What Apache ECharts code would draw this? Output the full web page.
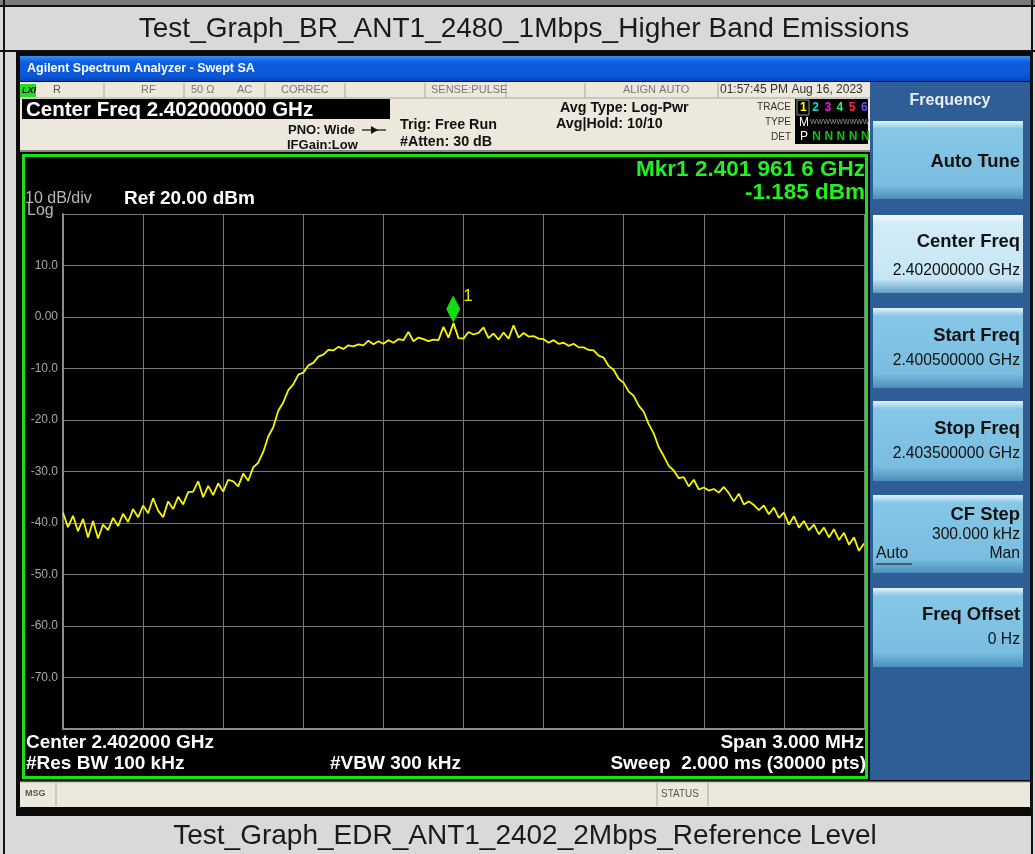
<!DOCTYPE html>
<html>
<head>
<meta charset="utf-8">
<script src="https://cdn.jsdelivr.net/npm/echarts@6.0.0/dist/echarts.min.js"></script>
<style>
html,body{margin:0;padding:0;background:#d9d9d9;}
#main{width:1035px;height:854px;}
</style>
</head>
<body>
<div id="main"></div>
<script>
// sweep: 2.4005 GHz .. 2.4035 GHz, offset from center 2.402 GHz in kHz
var startKHz = -1500;
var stepKHz = 18.75;
// trace 1 levels (dBm), every 18.75 kHz
var traceDbm = [
 -38.0,-40.8,-38.6,-41.6,-39.2,-42.8,-39.6,-43.0,-40.3,-41.4,
 -39.0,-40.6,-38.2,-39.8,-37.3,-38.9,-36.6,-38.1,-35.2,-37.6,
 -38.9,-35.8,-37.3,-34.9,-36.4,-34.0,-33.9,-31.9,-35.0,-32.8,
 -34.6,-32.3,-33.9,-31.6,-31.9,-32.9,-30.4,-31.8,-29.2,-28.3,
 -26.2,-23.2,-21.4,-18.2,-16.6,-14.2,-13.1,-11.2,-10.8,-9.4,
 -8.9,-7.7,-7.3,-6.4,-6.5,-5.8,-6.2,-5.5,-5.7,-5.3,
 -5.5,-4.6,-5.3,-4.7,-5.2,-4.5,-5.0,-4.3,-4.5,-2.9,
 -4.7,-4.0,-4.3,-4.7,-4.4,-4.5,-1.9,-4.0,-1.185,-4.1,
 -4.2,-2.9,-3.4,-3.1,-2.0,-4.1,-3.2,-4.4,-3.0,-4.2,
 -1.6,-4.0,-3.1,-3.8,-3.7,-4.2,-4.3,-5.0,-4.5,-5.2,
 -5.0,-5.6,-5.2,-5.9,-5.9,-6.4,-6.5,-7.5,-7.9,-9.5,
 -10.3,-12.0,-12.8,-14.5,-15.3,-17.2,-18.4,-20.8,-22.6,-25.3,
 -27.0,-28.9,-29.8,-31.3,-31.1,-32.9,-31.6,-33.5,-33.1,-33.7,
 -33.4,-34.1,-33.0,-34.2,-35.8,-34.3,-36.4,-35.8,-36.5,-37.5,
 -36.6,-38.3,-37.0,-39.0,-38.0,-40.3,-38.7,-40.9,-39.6,-41.4,
 -40.3,-42.2,-40.9,-42.8,-41.2,-43.3,-41.9,-44.2,-42.8,-45.4,
 -44.0
];
// marker 1
var mkrKHz = -38.4;
var mkrDbm = -1.185;
// y scale: ref 20 dBm, 10 dB/div
var yMin = -80, yMax = 20, yStep = 10;

var FONT = 'Liberation Sans, Arial, sans-serif';

function rect(x, y, w, h, fill, extra){
	var r = {type:'rect', shape:{x:x, y:y, width:w, height:h}, style:{fill:fill}, z:-10, silent:true};
	if (extra) {
		for (var k in extra) r.style[k] = extra[k];
	}
	return r;
}
function txt(x, y, s, size, color, opt){
	opt = opt || {};
	var font = (opt.bold ? 'bold ' : '') + (opt.italic ? 'italic ' : '') + size + 'px ' + (opt.family || FONT);
	return {type:'text', z:10, silent:true, style:{
		text:s, x:x, y:y, fill:color, font:font,
		textAlign:opt.align || 'left', align:opt.align || 'left',
		textVerticalAlign:'middle', verticalAlign:'middle'
	}};
}
function vline(x, y1, y2, color, w){
	return {type:'line', z:-5, silent:true, shape:{x1:x, y1:y1, x2:x, y2:y2}, style:{stroke:color, lineWidth:w || 1}};
}
function hline(x1, x2, y, color, w){
	return {type:'line', z:-5, silent:true, shape:{x1:x1, y1:y, x2:x2, y2:y}, style:{stroke:color, lineWidth:w || 1}};
}
function button(y, h, light){
	var g = {type:'linear', x:0, y:0, x2:0, y2:1, colorStops: light ? [
		{offset:0, color:'#f4fbfe'}, {offset:0.1, color:'#d3ecf8'}, {offset:0.82, color:'#c6e6f5'}, {offset:1, color:'#5f9fc8'}
	] : [
		{offset:0, color:'#e4f3fb'}, {offset:0.1, color:'#86c7e6'}, {offset:0.82, color:'#79bde0'}, {offset:1, color:'#4d8fbc'}
	]};
	return rect(873, y, 150, h, g);
}

function buildGraphic(){
	var els = [];
	// table cells / frame
	els.push(rect(0, 0, 1035, 854, '#d9d9d9'));
	els.push(rect(0, 0, 1035, 5, '#7a7a7a'));
	els.push(hline(0, 1035, 6, '#111', 2));
	els.push(vline(4, 0, 854, '#111', 2));
	els.push(vline(1032, 0, 854, '#111', 2));
	els.push(hline(0, 1035, 51, '#111', 2));
	els.push(rect(16, 51, 1017, 765, '#0a0a0a'));
	// XP title bar
	els.push(rect(20, 56, 1010, 25, {type:'linear', x:0, y:0, x2:0, y2:1, colorStops:[
		{offset:0, color:'#3b8cf5'}, {offset:0.25, color:'#0d5fe0'}, {offset:0.8, color:'#0a58d8'}, {offset:1, color:'#0846b8'}
	]}));
	// annunciator area
	els.push(rect(20, 82, 850, 70, '#ece9dc'));
	els.push(hline(20, 870, 98, '#a8a59a', 1));
	els.push(hline(20, 870, 151, '#8a877e', 2));
	[104, 184, 265, 345, 425, 506, 585, 718].forEach(function(x){
		els.push(vline(x, 83, 98, '#a8a59a', 1));
	});
	els.push(rect(20, 84, 16, 13, '#22dd22'));
	els.push(rect(22, 99, 368, 20, '#000'));
	els.push(rect(795, 99, 73, 45, '#000'));
	// plot panel
	els.push(rect(22, 153, 847, 627, '#000'));
	els.push({type:'rect', z:5, silent:true, shape:{x:23.5, y:155.5, width:843, height:622},
		style:{fill:'none', stroke:'#18e018', lineWidth:3}});
	// msg bar
	els.push(rect(20, 782, 1010, 25, '#ece9dc'));
	els.push(hline(20, 1030, 782, '#a8a59a', 1));
	[56, 657, 708].forEach(function(x){
		els.push(vline(x, 783, 806, '#a8a59a', 1));
	});
	// softkey panel
	els.push(rect(870, 82, 160, 698, '#2f5e96'));
	els.push(button(121, 78, false));
	els.push(button(215, 78, true));
	els.push(button(308, 80, false));
	els.push(button(401, 80, false));
	els.push(button(495, 78, false));
	els.push(button(588, 79, false));

	// texts: table captions
	els.push(txt(524, 29, 'Test_Graph_BR_ANT1_2480_1Mbps_Higher Band Emissions', 28, '#1a1a1a', {align:'center'}));
	els.push(txt(525, 836, 'Test_Graph_EDR_ANT1_2402_2Mbps_Reference Level', 28, '#1a1a1a', {align:'center'}));
	// title bar
	els.push(txt(27, 69, 'Agilent Spectrum Analyzer - Swept SA', 12.5, '#ffffff', {bold:true}));
	// status row
	els.push(txt(22, 91, 'LXI', 9, '#000', {bold:true, italic:true}));
	els.push(txt(53, 90, 'R', 11, '#555'));
	els.push(txt(141, 90, 'RF', 11, '#777'));
	els.push(txt(191, 90, '50 Ω', 11, '#777'));
	els.push(txt(237, 90, 'AC', 11, '#777'));
	els.push(txt(281, 90, 'CORREC', 11, '#777'));
	els.push(txt(431, 90, 'SENSE:PULSE', 11, '#777'));
	els.push(txt(623, 90, 'ALIGN AUTO', 11, '#777'));
	els.push(txt(720, 90, '01:57:45 PM Aug 16, 2023', 12, '#333'));
	els.push(txt(26, 110, 'Center Freq 2.402000000 GHz', 20.5, '#ffffff', {bold:true}));
	els.push(txt(288, 130, 'PNO: Wide', 13, '#111', {bold:true}));
	els.push(hline(362, 386, 130, '#111', 1.2));
	els.push({type:'polygon', z:10, silent:true, shape:{points:[[371,126],[378,130],[371,134]]}, style:{fill:'#111'}});
	els.push(txt(287, 145, 'IFGain:Low', 13, '#111', {bold:true}));
	els.push(txt(400, 125, 'Trig: Free Run', 14.3, '#111', {bold:true}));
	els.push(txt(400, 142, '#Atten: 30 dB', 14.3, '#111', {bold:true}));
	els.push(txt(560, 108, 'Avg Type: Log-Pwr', 14.3, '#111', {bold:true}));
	els.push(txt(556, 124, 'Avg|Hold: 10/10', 14.3, '#111', {bold:true}));
	els.push(txt(791, 107, 'TRACE', 10, '#333', {align:'right'}));
	els.push(txt(791, 122, 'TYPE', 10, '#333', {align:'right'}));
	els.push(txt(791, 137, 'DET', 10, '#333', {align:'right'}));
	var traceCols = ['#ffff00', '#10dcdc', '#ff10ff', '#30e878', '#ff2050', '#6a4cff'];
	traceCols.forEach(function(c, i){
		els.push(txt(800 + i * 12.2, 108, String(i + 1), 12, c, {bold:true}));
	});
	els.push({type:'rect', z:10, silent:true, shape:{x:797, y:100, width:12, height:15}, style:{fill:'none', stroke:'#7fa87f', lineWidth:1}});
	els.push(txt(799, 123, 'M', 12, '#fff'));
	els.push(txt(810, 122, 'WWWWWWWWW', 7, '#9a9a9a'));
	els.push(txt(800, 137, 'P', 12, '#fff'));
	for (var i = 1; i < 6; i++) {
		els.push(txt(800 + i * 12.2, 137, 'N', 12, '#10c010', {bold:true}));
	}
	// plot annotations
	els.push(txt(25, 199, '10 dB/div', 16, '#b8b8b8'));
	els.push(txt(27, 211, 'Log', 16, '#b8b8b8'));
	els.push(txt(124, 199, 'Ref 20.00 dBm', 19, '#ffffff', {bold:true}));
	els.push(txt(865, 170, 'Mkr1 2.401 961 6 GHz', 22.5, '#22f022', {bold:true, align:'right'}));
	els.push(txt(865, 193, '-1.185 dBm', 22.5, '#22f022', {bold:true, align:'right'}));
	els.push(txt(26, 743, 'Center 2.402000 GHz', 19, '#ffffff', {bold:true}));
	els.push(txt(864, 743, 'Span 3.000 MHz', 19, '#ffffff', {bold:true, align:'right'}));
	els.push(txt(26, 764, '#Res BW 100 kHz', 19, '#ffffff', {bold:true}));
	els.push(txt(330, 764, '#VBW 300 kHz', 19, '#ffffff', {bold:true}));
	els.push(txt(866, 764, 'Sweep  2.000 ms (30000 pts)', 19, '#ffffff', {bold:true, align:'right'}));
	els.push(txt(25, 794, 'MSG', 9, '#555', {bold:true}));
	els.push(txt(661, 794, 'STATUS', 10, '#555'));
	// softkeys
	els.push(txt(950, 101, 'Frequency', 16, '#e6eef8', {bold:true, align:'center'}));
	els.push(txt(1020, 162, 'Auto Tune', 18.4, '#111', {bold:true, align:'right'}));
	els.push(txt(1020, 242, 'Center Freq', 18.4, '#111', {bold:true, align:'right'}));
	els.push(txt(1020, 271, '2.402000000 GHz', 15.7, '#111', {align:'right'}));
	els.push(txt(1020, 336, 'Start Freq', 18.4, '#111', {bold:true, align:'right'}));
	els.push(txt(1020, 361, '2.400500000 GHz', 15.7, '#111', {align:'right'}));
	els.push(txt(1020, 429, 'Stop Freq', 18.4, '#111', {bold:true, align:'right'}));
	els.push(txt(1020, 454, '2.403500000 GHz', 15.7, '#111', {align:'right'}));
	els.push(txt(1020, 515, 'CF Step', 18.4, '#111', {bold:true, align:'right'}));
	els.push(txt(1020, 535, '300.000 kHz', 15.7, '#111', {align:'right'}));
	els.push(txt(876, 554, 'Auto', 15.7, '#111'));
	els.push(hline(876, 912, 564, '#111', 1.2));
	els.push(txt(1020, 554, 'Man', 15.7, '#111', {align:'right'}));
	els.push(txt(1020, 615, 'Freq Offset', 18.4, '#111', {bold:true, align:'right'}));
	els.push(txt(1020, 640, '0 Hz', 15.7, '#111', {align:'right'}));
	return els;
}

var myChart = echarts.init(document.getElementById('main'), null, {renderer:'canvas'});
var traceData = traceDbm.map(function(v, i){ return [startKHz + i * stepKHz, v]; });

var option = {
	animation: false,
	backgroundColor: '#d9d9d9',
	graphic: { elements: buildGraphic() },
	grid: { left: 63, top: 214, width: 801, height: 515, containLabel: false },
	xAxis: {
		type: 'value',
		min: startKHz,
		max: -startKHz,
		interval: 300,
		axisLine: { show: true, onZero: false, lineStyle: { color: '#8c8c8c', width: 2 } },
		axisTick: { show: false },
		axisLabel: { show: false },
		splitLine: { show: true, lineStyle: { color: '#777', width: 1 } }
	},
	yAxis: {
		type: 'value',
		min: yMin,
		max: yMax,
		interval: yStep,
		axisLine: { show: true, onZero: false, lineStyle: { color: '#8c8c8c', width: 2 } },
		axisTick: { show: false },
		axisLabel: {
			margin: 5,
			color: '#a8a8a8',
			fontSize: 12,
			fontFamily: FONT,
			formatter: function(v){
				if (v === yMax || v === yMin) return '';
				return v === 0 ? '0.00' : v.toFixed(1);
			}
		},
		splitLine: { show: true, lineStyle: { color: '#777', width: 1 } }
	},
	series: [{
		type: 'line',
		data: traceData,
		symbol: 'none',
		lineStyle: { color: '#f6f600', width: 1.8 },
		z: 3,
		markPoint: {
			symbol: 'diamond',
			symbolSize: [14, 27],
			symbolOffset: [0, -14],
			itemStyle: { color: '#10e010' },
			label: {
				show: true,
				formatter: '1',
				position: [17, -8],
				color: '#e8e800',
				fontSize: 17,
				fontFamily: FONT
			},
			data: [{ coord: [mkrKHz, mkrDbm] }]
		}
	}]
};
myChart.setOption(option);
</script>
</body>
</html>
